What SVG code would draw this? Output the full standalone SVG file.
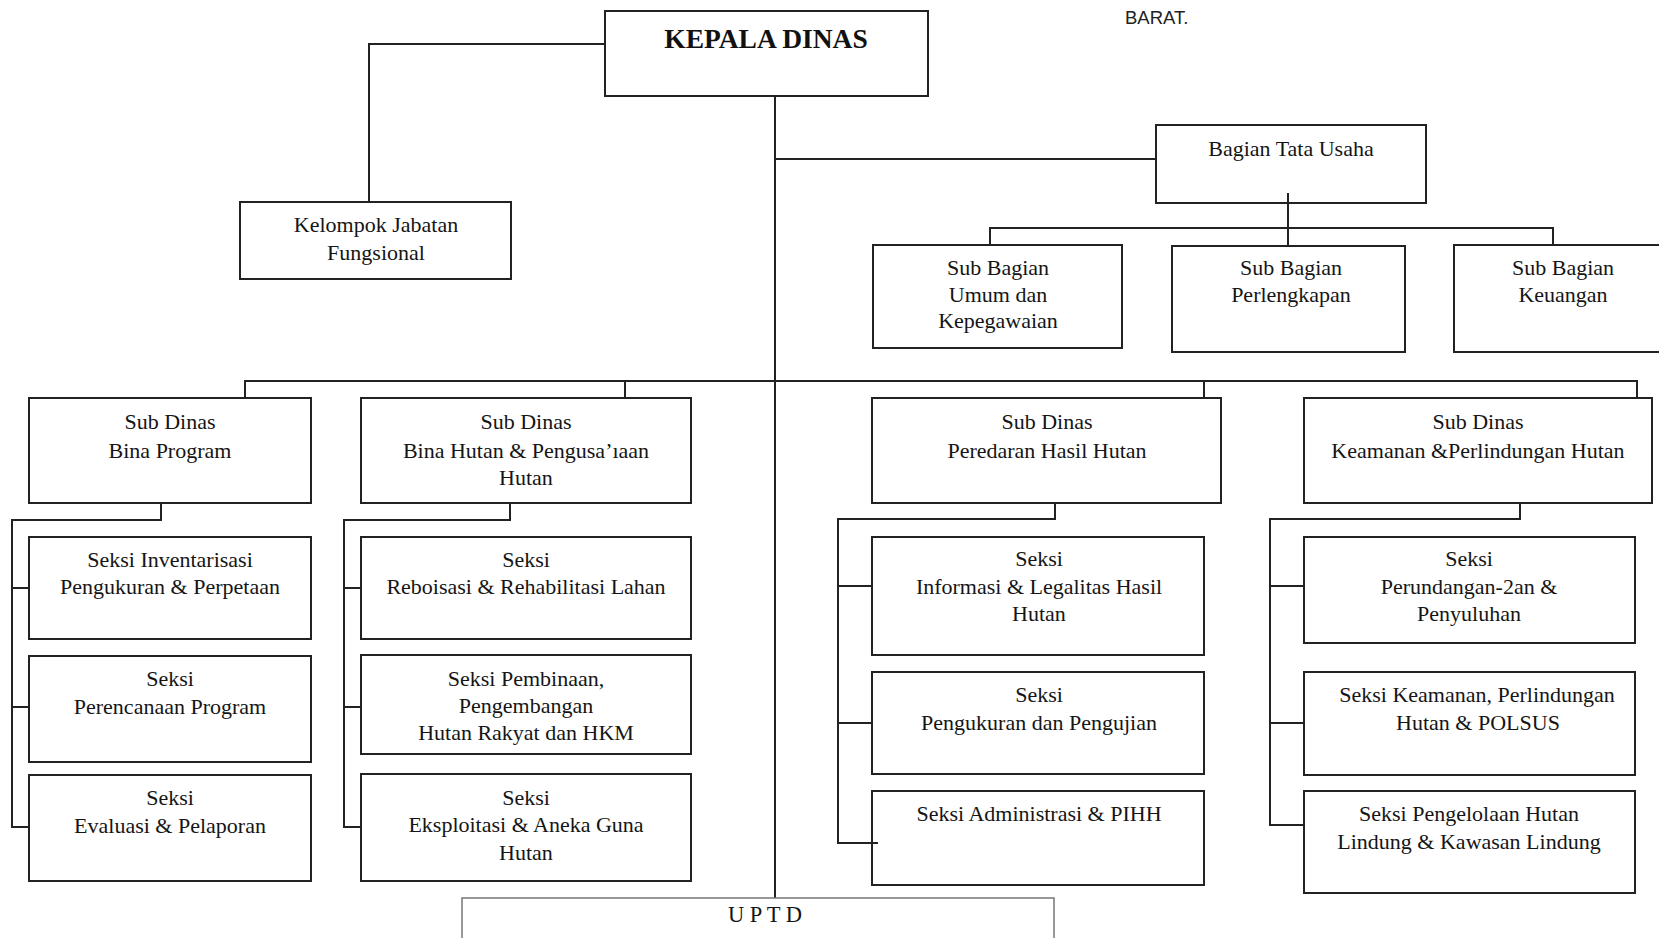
<svg xmlns="http://www.w3.org/2000/svg" width="1659" height="938" viewBox="0 0 1659 938">
<style>
  .box { fill: #ffffff; stroke: #222222; stroke-width: 2; }
  .faint { fill: #ffffff; stroke: #777777; stroke-width: 1.5; }
  .t { font-family: "Liberation Serif", "Times New Roman", serif; font-size: 22px; fill: #151515; text-anchor: middle; }
  .tb { font-family: "Liberation Serif", "Times New Roman", serif; font-size: 27.5px; font-weight: bold; fill: #111111; text-anchor: middle; }
  .s { font-family: "Liberation Sans", Arial, sans-serif; font-size: 18.5px; fill: #222222; }
  .ln { fill: none; stroke: #222222; stroke-width: 2; }
</style>
<rect x="0" y="0" width="1659" height="938" fill="#ffffff"/>

<text class="s" x="1125" y="24">BARAT.</text>

<g id="connectors">
  <path class="ln" d="M605,44 H369 V202"/>
  <path class="ln" d="M775,96 V898"/>
  <path class="ln" d="M775,159 H1156"/>
  <path class="ln" d="M1288,193 V246"/>
  <path class="ln" d="M990,245 V228 H1553 V245"/>
  <path class="ln" d="M245,398 V381 H1637 V398"/>
  <path class="ln" d="M625,381 V398"/>
  <path class="ln" d="M1204,381 V398"/>
  <path class="ln" d="M161,503 V520 H12 V827 H29"/>
  <path class="ln" d="M12,588 H29 M12,707 H29"/>
  <path class="ln" d="M510,503 V520 H344 V827 H361"/>
  <path class="ln" d="M344,588 H361 M344,707 H361"/>
  <path class="ln" d="M1055,503 V519 H838 V843 H878"/>
  <path class="ln" d="M838,586 H872 M838,723 H872"/>
  <path class="ln" d="M1520,503 V519 H1270 V825 H1304"/>
  <path class="ln" d="M1270,586 H1304 M1270,723 H1304"/>
</g>

<g id="kepala-dinas">
  <rect class="box" x="605" y="11" width="323" height="85"/>
  <text class="tb" x="766" y="48">KEPALA DINAS</text>
</g>

<g id="kelompok-jabatan">
  <rect class="box" x="240" y="202" width="271" height="77"/>
  <text class="t" x="376" y="232">Kelompok Jabatan</text>
  <text class="t" x="376" y="260">Fungsional</text>
</g>

<g id="bagian-tata-usaha">
  <rect class="box" x="1156" y="125" width="270" height="78"/>
  <text class="t" x="1291" y="156">Bagian Tata Usaha</text>
</g>
<path class="ln" d="M1288,193 V203"/>

<g id="sub-bagian-umum">
  <rect class="box" x="873" y="245" width="249" height="103"/>
  <text class="t" x="998" y="275">Sub Bagian</text>
  <text class="t" x="998" y="302">Umum dan</text>
  <text class="t" x="998" y="328">Kepegawaian</text>
</g>

<g id="sub-bagian-perlengkapan">
  <rect class="box" x="1172" y="246" width="233" height="106"/>
  <text class="t" x="1291" y="275">Sub Bagian</text>
  <text class="t" x="1291" y="302">Perlengkapan</text>
</g>

<g id="sub-bagian-keuangan">
  <rect class="box" x="1454" y="245" width="220" height="107"/>
  <text class="t" x="1563" y="275">Sub Bagian</text>
  <text class="t" x="1563" y="302">Keuangan</text>
</g>

<g id="subdinas-bina-program">
  <rect class="box" x="29" y="398" width="282" height="105"/>
  <text class="t" x="170" y="429">Sub Dinas</text>
  <text class="t" x="170" y="458">Bina Program</text>
</g>

<g id="subdinas-bina-hutan">
  <rect class="box" x="361" y="398" width="330" height="105"/>
  <text class="t" x="526" y="429">Sub Dinas</text>
  <text class="t" x="526" y="458">Bina Hutan &amp; Pengusa’ıaan</text>
  <text class="t" x="526" y="485">Hutan</text>
</g>

<g id="subdinas-peredaran">
  <rect class="box" x="872" y="398" width="349" height="105"/>
  <text class="t" x="1047" y="429">Sub Dinas</text>
  <text class="t" x="1047" y="458">Peredaran Hasil Hutan</text>
</g>

<g id="subdinas-keamanan">
  <rect class="box" x="1304" y="398" width="348" height="105"/>
  <text class="t" x="1478" y="429">Sub Dinas</text>
  <text class="t" x="1478" y="458">Keamanan &amp;Perlindungan Hutan</text>
</g>

<g id="seksi-inventarisasi">
  <rect class="box" x="29" y="537" width="282" height="102"/>
  <text class="t" x="170" y="567">Seksi Inventarisasi</text>
  <text class="t" x="170" y="594">Pengukuran &amp; Perpetaan</text>
</g>

<g id="seksi-perencanaan">
  <rect class="box" x="29" y="656" width="282" height="106"/>
  <text class="t" x="170" y="686">Seksi</text>
  <text class="t" x="170" y="714">Perencanaan Program</text>
</g>

<g id="seksi-evaluasi">
  <rect class="box" x="29" y="775" width="282" height="106"/>
  <text class="t" x="170" y="805">Seksi</text>
  <text class="t" x="170" y="833">Evaluasi &amp; Pelaporan</text>
</g>

<g id="seksi-reboisasi">
  <rect class="box" x="361" y="537" width="330" height="102"/>
  <text class="t" x="526" y="567">Seksi</text>
  <text class="t" x="526" y="594">Reboisasi &amp; Rehabilitasi Lahan</text>
</g>

<g id="seksi-pembinaan">
  <rect class="box" x="361" y="655" width="330" height="99"/>
  <text class="t" x="526" y="686">Seksi Pembinaan,</text>
  <text class="t" x="526" y="713">Pengembangan</text>
  <text class="t" x="526" y="740">Hutan Rakyat dan HKM</text>
</g>

<g id="seksi-eksploitasi">
  <rect class="box" x="361" y="774" width="330" height="107"/>
  <text class="t" x="526" y="805">Seksi</text>
  <text class="t" x="526" y="832">Eksploitasi &amp; Aneka Guna</text>
  <text class="t" x="526" y="860">Hutan</text>
</g>

<g id="seksi-informasi">
  <rect class="box" x="872" y="537" width="332" height="118"/>
  <text class="t" x="1039" y="566">Seksi</text>
  <text class="t" x="1039" y="594">Informasi &amp; Legalitas Hasil</text>
  <text class="t" x="1039" y="621">Hutan</text>
</g>

<g id="seksi-pengukuran">
  <rect class="box" x="872" y="672" width="332" height="102"/>
  <text class="t" x="1039" y="702">Seksi</text>
  <text class="t" x="1039" y="730">Pengukuran dan Pengujian</text>
</g>

<g id="seksi-administrasi">
  <rect class="box" x="872" y="791" width="332" height="94"/>
  <text class="t" x="1039" y="821">Seksi Administrasi &amp; PIHH</text>
</g>
<path class="ln" d="M838,843 H878"/>

<g id="seksi-perundangan">
  <rect class="box" x="1304" y="537" width="331" height="106"/>
  <text class="t" x="1469" y="566">Seksi</text>
  <text class="t" x="1469" y="594">Perundangan-2an &amp;</text>
  <text class="t" x="1469" y="621">Penyuluhan</text>
</g>

<g id="seksi-keamanan">
  <rect class="box" x="1304" y="672" width="331" height="103"/>
  <text class="t" x="1477" y="702">Seksi Keamanan, Perlindungan</text>
  <text class="t" x="1478" y="730">Hutan &amp; POLSUS</text>
</g>

<g id="seksi-pengelolaan">
  <rect class="box" x="1304" y="791" width="331" height="102"/>
  <text class="t" x="1469" y="821">Seksi Pengelolaan Hutan</text>
  <text class="t" x="1469" y="849">Lindung &amp; Kawasan Lindung</text>
</g>

<g id="uptd">
  <path class="faint" d="M462,940 V898 H1054 V940"/>
  <text class="t" x="765" y="922" style="font-size:22.5px">U P T D</text>
</g>
</svg>
